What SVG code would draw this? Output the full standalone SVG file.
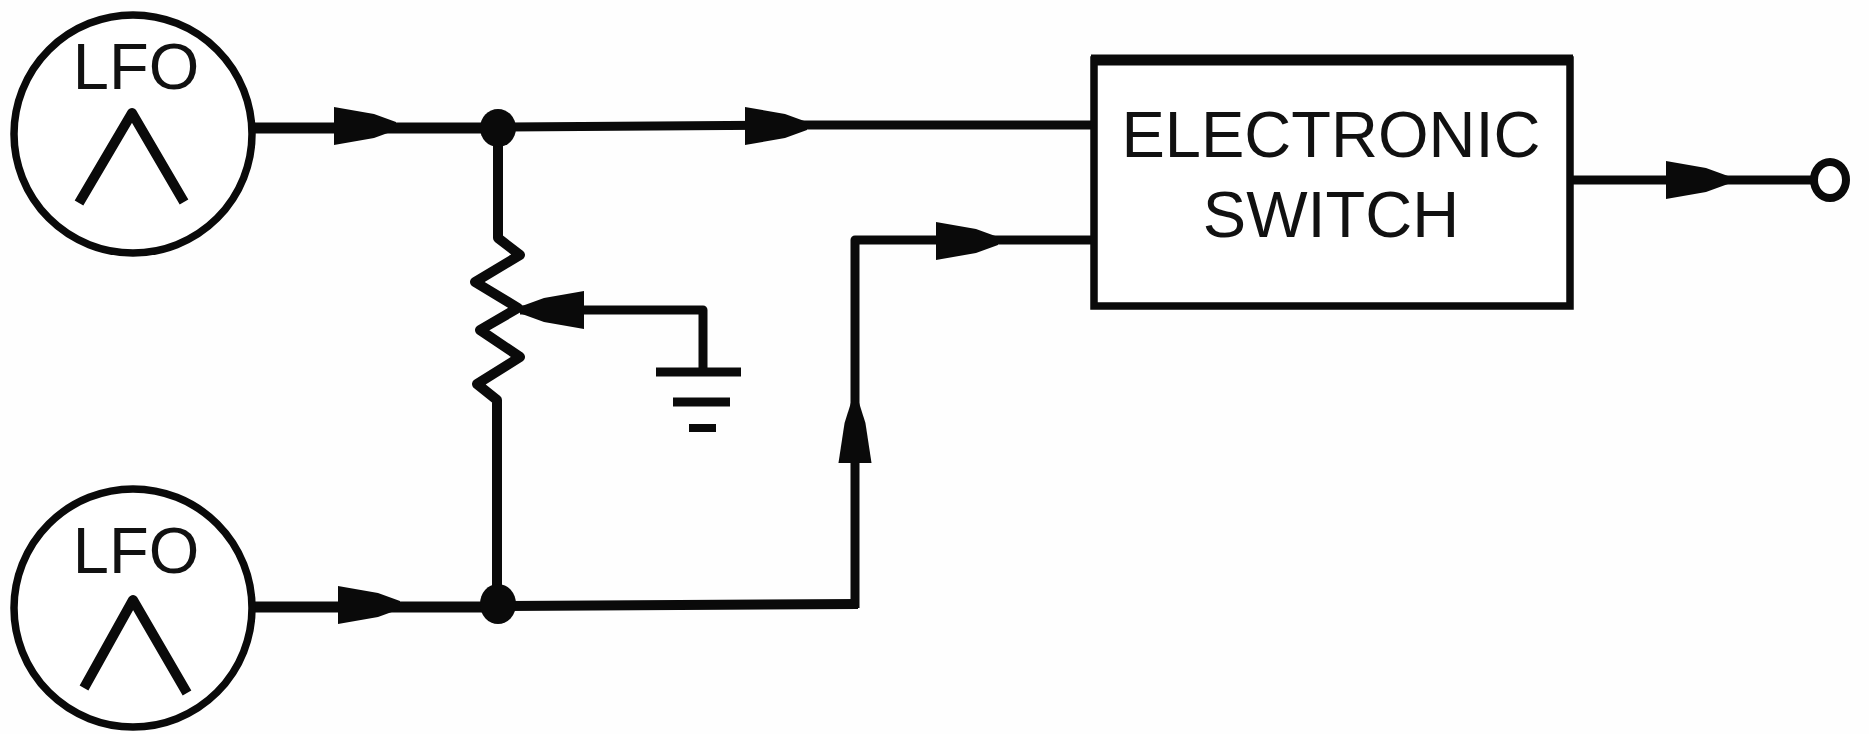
<svg xmlns="http://www.w3.org/2000/svg" width="1869" height="734" viewBox="0 0 1869 734">
<style>
.w{fill:none;stroke:#0a0a0a;stroke-width:9;stroke-linejoin:round;stroke-linecap:butt}
.c{fill:#fff;stroke:#0a0a0a;stroke-width:7.5}
.t{fill:none;stroke:#0a0a0a;stroke-width:10;stroke-linejoin:round}
.a{fill:#0a0a0a}
text{font-family:"Liberation Sans",Arial,sans-serif;fill:#111;text-anchor:middle}
.l{font-size:65px}
.s{font-size:65px}
</style>
<defs>
<path id="ah" d="M0,-19 L40,-12 L62,-4 L62,4 L40,12 L0,19 Z"/>
</defs>
<rect width="1869" height="734" fill="#fefefe"/>
<g id="connectors">
<path class="w" style="stroke-width:11" d="M255,128 H498"/>
<path class="w" d="M498,127 L800,125 H1093"/>
<path class="w" style="stroke-width:10" d="M498,128 V238 L520,255 L475,282 L518,308 L480,330 L520,357 L477,384 L497,400 V606"/>
<path class="w" style="stroke-width:11" d="M255,607 H498"/>
<path class="w" style="stroke-width:10" d="M498,606 L858,604"/>
<path class="w" d="M855,608 V240 H1092"/>
<path class="w" d="M520,310 H703 V372"/>
<path class="w" style="stroke-width:9" d="M656,372 H741"/>
<path class="w" style="stroke-width:9" d="M673,402 H730"/>
<path class="w" style="stroke-width:8" d="M689,428 H716"/>
<path class="w" d="M1573,180 H1812"/>
<use href="#ah" class="a" transform="translate(334,126)"/>
<use href="#ah" class="a" transform="translate(745,126)"/>
<use href="#ah" class="a" transform="translate(338,605)"/>
<use href="#ah" class="a" transform="translate(936,241)"/>
<use href="#ah" class="a" transform="translate(1666,180)"/>
<use href="#ah" class="a" transform="translate(855,463) rotate(-90) scale(1,.87)"/>
<use href="#ah" class="a" transform="translate(584,310) rotate(180)"/>
<ellipse class="a" cx="498" cy="128" rx="18" ry="19"/>
<ellipse class="a" cx="498" cy="604" rx="18" ry="20"/>
</g>
<g id="lfo-1">
<circle class="c" cx="133" cy="134" r="119"/>
<text class="l" x="136" y="89">LFO</text>
<path class="t" d="M79,203 L132,113 L184,202"/>
</g>
<g id="lfo-2">
<circle class="c" cx="133" cy="608" r="119"/>
<text class="l" x="136" y="573">LFO</text>
<path class="t" d="M84,688 L133,600 L187,693"/>
</g>
<g id="electronic-switch">
<rect class="c" x="1094" y="60" width="476" height="246"/>
<path class="w" style="stroke-width:11" d="M1091,60 H1573"/>
<text class="s" x="1331" y="157">ELECTRONIC</text>
<text class="s" x="1331" y="237">SWITCH</text>
</g>
<g id="output-terminal">
<ellipse cx="1830" cy="180" rx="16" ry="18" fill="#fff" stroke="#0a0a0a" stroke-width="8"/>
</g>
</svg>
